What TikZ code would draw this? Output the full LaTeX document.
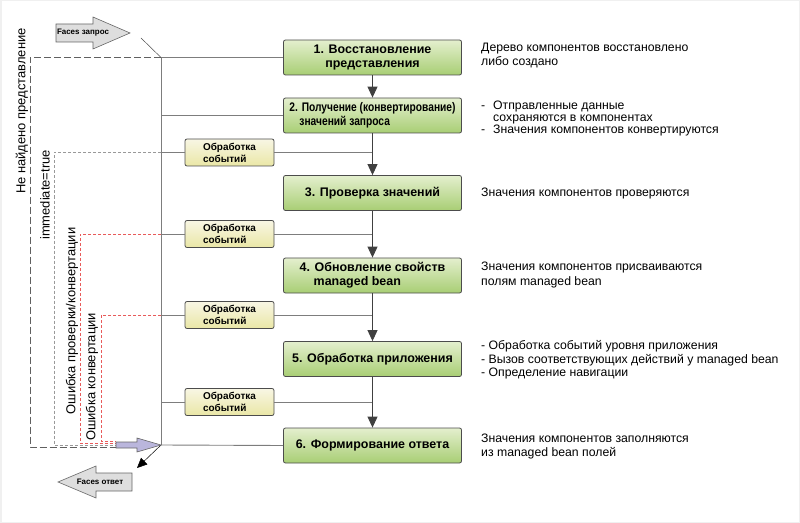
\documentclass[tikz,border=0pt]{standalone}
\usepackage{fontspec}
\setmainfont{Liberation Sans}
\newfontfamily\narrowfont[FakeStretch=0.82]{Liberation Sans}
\usetikzlibrary{arrows.meta}

\definecolor{stepTop}{RGB}{228,239,206}
\definecolor{stepBot}{RGB}{168,206,116}
\definecolor{evTop}{RGB}{248,246,228}
\definecolor{evBot}{RGB}{234,231,166}
\definecolor{wireGray}{RGB}{125,125,125}
\definecolor{errRed}{RGB}{232,90,90}
\definecolor{facesGray}{RGB}{222,222,222}
\definecolor{backLilac}{RGB}{186,182,220}

\tikzset{
	phase/.style={draw=black!70, line width=0.8bp, rounded corners=2bp, top color=stepTop, bottom color=stepBot, minimum width=178bp, minimum height=35bp, inner sep=0pt, align=center, font=\fontsize{12.5}{14}\selectfont\bfseries},
	event/.style={draw=black!70, line width=0.8bp, rounded corners=2bp, top color=evTop, bottom color=evBot, minimum width=89bp, minimum height=27bp, inner sep=0pt, align=left, font=\fontsize{10}{12}\selectfont\bfseries},
	note/.style={anchor=west, align=left, inner sep=0pt, font=\fontsize{12.3}{14.5}\selectfont},
	side/.style={rotate=90, inner sep=0pt, font=\fontsize{13}{15}\selectfont},
	flow/.style={line width=0.9bp, black!75, -{Triangle[length=11bp,width=10bp]}},
	feed/.style={line width=0.9bp, wireGray},
	faces/.style={fill=facesGray, draw=black!60, line width=0.6bp},
}

\begin{document}
\begin{tikzpicture}[x=1bp, y=-1bp]
			%%%%% START %%%%%
			\useasboundingbox (0, 0) rectangle (800, 523);
			\draw[gray!12, line width=3bp] (0, 0) rectangle (800, 523);
			
			\coordinate (top) at (161, 57.5);
			\coordinate (bot) at (161, 445);
			\coordinate (back) at (116, 445);
			
			\node[phase] (s1) at (372.5, 57.5) {1. Восстановление\\представления};
			\node[phase, align=left, font=\fontsize{12.5}{14}\narrowfont\bfseries] (s2) at (372.5, 115.5) {2. Получение (конвертирование)\\\hspace*{10bp}значений запроса};
			\node[phase] (s3) at (372.5, 193) {3. Проверка значений};
			\node[phase, align=left] (s4) at (372.5, 275.5) {4. Обновление свойств\\\hspace*{14bp}managed bean};
			\node[phase] (s5) at (372.5, 359) {5. Обработка приложения};
			\node[phase] (s6) at (372.5, 445.5) {6. Формирование ответа};
			
			\node[event] (e1) at (229.5, 152.5) {Обработка\\событий};
			\node[event] (e2) at (229.5, 234) {Обработка\\событий};
			\node[event] (e3) at (229.5, 315) {Обработка\\событий};
			\node[event] (e4) at (229.5, 402) {Обработка\\событий};
			
			\node[note] (n1) at (481, 55.5) {Дерево компонентов восстановлено\\либо создано};
			\node[note, font=\fontsize{12.3}{12.5}\selectfont] (n2) at (481, 118.5) {\makebox[12bp][l]{-}Отправленные данные\\\hspace*{12bp}сохраняются в компонентах\\\makebox[12bp][l]{-}Значения компонентов конвертируются};
			\node[note] (n3) at (481, 193) {Значения компонентов проверяются};
			\node[note] (n4) at (481, 275) {Значения компонентов присваиваются\\полям managed bean};
			\node[note, font=\fontsize{12.3}{13.5}\selectfont] (n5) at (481, 360) {- Обработка событий уровня приложения\\- Вызов соответствующих действий у managed bean\\- Определение навигации};
			\node[note] (n6) at (481, 446.5) {Значения компонентов заполняются\\из managed bean полей};
			
			\node[side] (l1) at (22, 111) {Не найдено представление};
			\node[side] (l2) at (45, 195) {immediate=true};
			\node[side] (l3) at (72, 321) {Ошибка проверки/конвертации};
			\node[side] (l4) at (92, 377) {Ошибка конвертации};
			
			% back routes
			\draw[gray!75!black, line width=0.8bp, dash pattern=on 7bp off 3bp] (top) -- (30, 57.5) |- ([yshift=-2bp]back);
			\draw[gray!80, line width=0.8bp, dash pattern=on 3bp off 2bp] (e1.west -| top) -- (54, 152.5) |- (back);
			\draw[errRed, line width=0.7bp, dash pattern=on 3bp off 2bp] (e2.west -| top) -- (80, 234) |- ([yshift=2bp]back);
			\draw[errRed, line width=0.7bp, dash pattern=on 3bp off 2bp] (e3.west -| top) -- (101, 315) |- ([yshift=4bp]back);
			
			% trunk
			\draw[feed] (top) -- (bot);
			\draw[feed] (top) -- (s1.west);
			\draw[feed] (s2.west -| top) -- (s2.west);
			\draw[feed] (bot) -- (s6.west);
			\foreach \e in {e1, e2, e3, e4}{
				\draw[feed] (\e.west -| top) -- (\e.west);
				\draw[feed] (\e.east) -- (\e.east -| s1.south);
			}
			
			\draw[flow] (s1) -- (s2);
			\draw[flow] (s2) -- (s3);
			\draw[flow] (s3) -- (s4);
			\draw[flow] (s4) -- (s5);
			\draw[flow] (s5) -- (s6);
			
			% faces arrows
			\draw[faces] (56, 24) -- (93, 24) -- (93, 17) -- (130, 33) -- (93, 49) -- (93, 42) -- (56, 42) -- cycle;
			\node[font=\fontsize{8}{9}\selectfont\bfseries, inner sep=0pt] (req) at (83, 33) {Faces запрос};
			\draw[black!70, line width=0.5bp] (141, 38) -- (top);
			
			\draw[faces] (58, 482) -- (96, 466) -- (96, 473) -- (132, 473) -- (132, 491) -- (96, 491) -- (96, 498) -- cycle;
			\node[font=\fontsize{8}{9}\selectfont\bfseries, inner sep=0pt] (resp) at (100, 482) {Faces ответ};
			\coordinate (out) at (137, 468);
			\draw[black, line width=0.5bp, -{Triangle[length=10bp,width=9bp]}] (bot) -- (out);
			
			\draw[fill=backLilac, draw=black!60, line width=0.6bp] (back) ++(0, -3) -- (137, 442) -- (137, 438) -- (bot) -- (137, 452) -- (137, 448) -- (116, 448) -- cycle;
			%%%%% END %%%%%
\end{tikzpicture}
\end{document}
